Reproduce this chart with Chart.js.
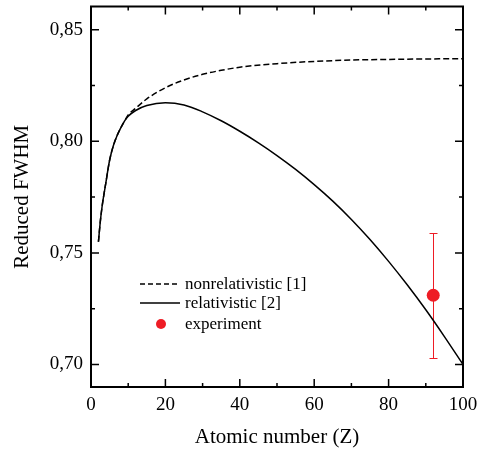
<!DOCTYPE html>
<html><head><meta charset="utf-8">
<script src="https://cdn.jsdelivr.net/npm/chart.js@4/dist/chart.umd.min.js"></script>
<style>html,body{margin:0;padding:0;background:#fff}#wrap{width:484px;height:450px}</style>
</head><body><div id="wrap"><canvas id="c" width="484" height="450"></canvas></div>
<script>
// ---- data ----
const zNonrel    = [2, 2.5, 3, 4, 5, 6, 7, 8, 9, 10, 12, 15, 20, 25, 30, 35, 40, 50, 60, 70, 80, 90, 100];
const fwhmNonrel = [0.755, 0.764, 0.771, 0.7815, 0.7915, 0.798, 0.8025, 0.806, 0.809, 0.8118, 0.8148, 0.819, 0.824, 0.8275, 0.830, 0.8318, 0.8332, 0.8348, 0.8358, 0.8364, 0.8367, 0.8369, 0.837];
const zRel       = [2, 2.5, 3, 4, 5, 6, 7, 8, 9, 10, 12, 15, 20, 25, 30, 35, 40, 45, 50, 55, 60, 65, 70, 75, 80, 85, 90, 95, 100];
const fwhmRel    = [0.755, 0.764, 0.771, 0.7815, 0.7915, 0.798, 0.8025, 0.806, 0.809, 0.8112, 0.8138, 0.816, 0.8173, 0.8163, 0.8132, 0.8092, 0.8045, 0.7993, 0.7936, 0.7874, 0.7806, 0.7732, 0.765, 0.756, 0.7462, 0.7357, 0.7245, 0.7125, 0.700];
const zExp       = [92];
const fwhmExp    = [0.731];
const errExp     = [0.028];
const xTicks     = [0, 20, 40, 60, 80, 100];
const xMinor     = [10, 30, 50, 70, 90];
const yTicks     = [0.70, 0.75, 0.80, 0.85];
const yMinor     = [0.725, 0.775, 0.825];
const legendLabels = ['nonrelativistic [1]', 'relativistic [2]', 'experiment'];
const xTitle = 'Atomic number (Z)';
const yTitle = 'Reduced FWHM';

const RED = '#ee1c25';
const FONT = "'Liberation Serif', 'Times New Roman', serif";

const pts = (xs, ys) => xs.map((x, i) => ({x, y: ys[i]}));

const framePlugin = {
  id: 'frame',
  beforeDatasetsDraw(chart) {
    const {ctx, scales: {x, y}} = chart;
    ctx.save();
    ctx.strokeStyle = RED; ctx.lineWidth = 1;
    zExp.forEach((z, i) => {
      const px = Math.round(x.getPixelForValue(z)) + 0.5;
      const top = Math.round(y.getPixelForValue(fwhmExp[i] + errExp[i])) + 0.5;
      const bot = Math.round(y.getPixelForValue(fwhmExp[i] - errExp[i])) + 0.5;
      ctx.beginPath();
      ctx.moveTo(px, top); ctx.lineTo(px, bot);
      ctx.moveTo(px - 4, top); ctx.lineTo(px + 4, top);
      ctx.moveTo(px - 4, bot); ctx.lineTo(px + 4, bot);
      ctx.stroke();
    });
    ctx.restore();
  },
  afterDraw(chart) {
    const {ctx, chartArea: a, scales: {x, y}} = chart;
    ctx.save();
    ctx.strokeStyle = '#000';
    ctx.lineWidth = 2;
    ctx.strokeRect(a.left, a.top, a.right - a.left, a.bottom - a.top);
    ctx.lineWidth = 1.5;
    ctx.beginPath();
    const tx = (v, len) => {
      const p = x.getPixelForValue(v);
      ctx.moveTo(p, a.bottom); ctx.lineTo(p, a.bottom - len);
      ctx.moveTo(p, a.top); ctx.lineTo(p, a.top + len);
    };
    const ty = (v, len) => {
      const p = y.getPixelForValue(v);
      ctx.moveTo(a.left, p); ctx.lineTo(a.left + len, p);
      ctx.moveTo(a.right, p); ctx.lineTo(a.right - len, p);
    };
    xTicks.forEach(v => tx(v, 8));
    xMinor.forEach(v => tx(v, 4));
    yTicks.forEach(v => ty(v, 8));
    yMinor.forEach(v => ty(v, 4));
    ctx.stroke();

    // legend
    ctx.font = '17px ' + FONT;
    ctx.fillStyle = '#000';
    ctx.textBaseline = 'middle';
    ctx.textAlign = 'left';
    const lx0 = 140, lx1 = 180, tx0 = 185;
    const rows = [284, 303, 324];
    ctx.lineWidth = 1.5;
    ctx.setLineDash([5, 3]);
    ctx.beginPath(); ctx.moveTo(lx0, rows[0]); ctx.lineTo(lx1, rows[0]); ctx.stroke();
    ctx.setLineDash([]);
    ctx.beginPath(); ctx.moveTo(lx0, rows[1]); ctx.lineTo(lx1, rows[1]); ctx.stroke();
    ctx.fillStyle = RED;
    ctx.beginPath(); ctx.arc(161, rows[2], 5, 0, Math.PI * 2); ctx.fill();
    ctx.fillStyle = '#000';
    legendLabels.forEach((t, i) => ctx.fillText(t, tx0, rows[i] + 1));
    ctx.restore();
  }
};

new Chart(document.getElementById('c'), {
  type: 'scatter',
  data: {
    datasets: [
      { label: legendLabels[0], data: pts(zNonrel, fwhmNonrel), showLine: true, borderColor: '#000', borderWidth: 1.5, borderDash: [6, 3], pointRadius: 0, cubicInterpolationMode: 'monotone', fill: false },
      { label: legendLabels[1], data: pts(zRel, fwhmRel), showLine: true, borderColor: '#000', borderWidth: 1.5, pointRadius: 0, cubicInterpolationMode: 'monotone', fill: false },
      { label: legendLabels[2], data: pts(zExp, fwhmExp), showLine: false, pointRadius: 6.5, pointBackgroundColor: RED, pointBorderColor: RED, pointBorderWidth: 0 }
    ]
  },
  options: {
    responsive: false,
    animation: false,
    devicePixelRatio: 1,
    layout: { padding: { left: 0, right: 21, top: 5, bottom: 0 } },
    plugins: { legend: { display: false }, tooltip: { enabled: false } },
    scales: {
      x: {
        type: 'linear', min: 0, max: 100,
        afterBuildTicks: s => { s.ticks = xTicks.map(v => ({value: v})); },
        afterFit: s => { s.height = 63; s.paddingLeft = 0; s.paddingRight = 0; },
        grid: { display: false, drawTicks: false },
        border: { display: false },
        ticks: { color: '#000', font: { family: FONT, size: 19 }, padding: 7, maxRotation: 0 },
        title: { display: true, text: xTitle, color: '#000', font: { family: FONT, size: 21 }, padding: { top: 0, bottom: 0 } }
      },
      y: {
        type: 'linear', min: 0.6899, max: 0.8604,
        afterBuildTicks: s => { s.ticks = yTicks.map(v => ({value: v})); },
        afterFit: s => { s.width = 91; s.paddingTop = 0; s.paddingBottom = 0; },
        grid: { display: false, drawTicks: false },
        border: { display: false },
        ticks: { color: '#000', font: { family: FONT, size: 19 }, padding: 8, callback: v => v.toFixed(2).replace('.', ',') },
        title: { display: true, text: yTitle, color: '#000', font: { family: FONT, size: 21 }, padding: { top: 10, bottom: 0 } }
      }
    }
  },
  plugins: [framePlugin]
});
</script>
</body></html>
